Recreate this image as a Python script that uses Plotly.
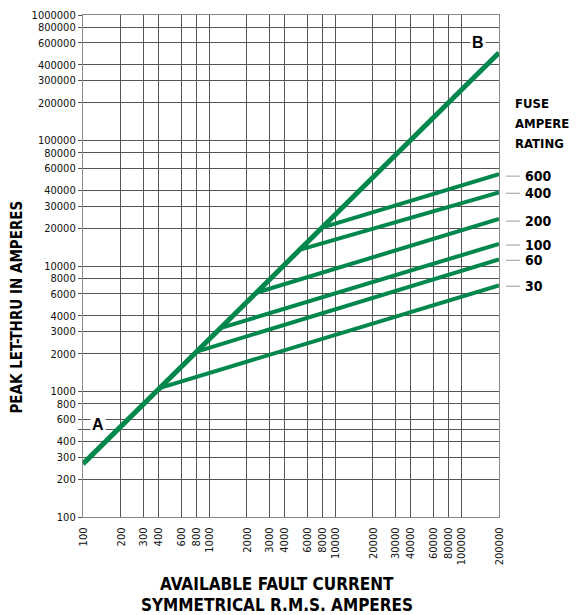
import numpy as np
import plotly.graph_objects as go

# ---- data ----
x_ticks = [100, 200, 300, 400, 600, 800, 1000, 2000, 3000, 4000, 6000, 8000,
           10000, 20000, 30000, 40000, 60000, 80000, 100000, 200000]
y_ticks = [100, 200, 300, 400, 500, 600, 800, 1000, 2000, 3000, 4000, 6000, 8000,
           10000, 20000, 30000, 40000, 60000, 80000, 100000, 200000, 300000,
           400000, 600000, 800000, 1000000]
y_tick_labels = [str(v) if v != 500 else "" for v in y_ticks]

# main A-B line
ab_x = [100, 200000]
ab_y = [265, 500000]

# fuse ratings: branch point on A-B line and end value at 200000 A
fuse_ratings = ["600", "400", "200", "100", "60", "30"]
fuse_start_x = [8000, 5300, 2400, 1230, 800, 410]
fuse_start_y = [20300, 13500, 6150, 3200, 2080, 1070]
fuse_end_x = [200000, 200000, 200000, 200000, 200000, 200000]
fuse_end_y = [54000, 38600, 23700, 15000, 11300, 7000]
label_y = [52000, 38000, 22800, 14700, 11100, 6900]

GREEN = "#00874B"
FONT = "Liberation Sans Narrow, Arial Narrow, DejaVu Sans Condensed, sans-serif"

fig = go.Figure()
fig.add_trace(go.Scatter(x=ab_x, y=ab_y, mode="lines",
                         line=dict(color=GREEN, width=5), hoverinfo="skip",
                         showlegend=False))
for sx, sy, ex, ey in zip(fuse_start_x, fuse_start_y, fuse_end_x, fuse_end_y):
    fig.add_trace(go.Scatter(x=[sx, ex], y=[sy, ey], mode="lines",
                             line=dict(color=GREEN, width=4), hoverinfo="skip",
                             showlegend=False))

annotations = []
shapes = []
for r, ly in zip(fuse_ratings, label_y):
    annotations.append(dict(x=1.058, xref="paper", y=np.log10(ly), yref="y",
                            text=r, showarrow=False, xanchor="left",
                            yanchor="middle",
                            font=dict(family=FONT, size=14, color="black",
                                      weight="bold")))
    shapes.append(dict(type="line", xref="paper", yref="y", x0=1.017, x1=1.05,
                       y0=ly, y1=ly, line=dict(color="#999999", width=1)))

for i, t in enumerate(["FUSE", "AMPERE", "RATING"]):
    annotations.append(dict(x=1.034, xref="paper", y=(517 - (103.7 + 20 * i)) / 502,
                            yref="paper", text=t, showarrow=False,
                            xanchor="left", yanchor="middle",
                            font=dict(family=FONT, size=13, color="black",
                                      weight="bold")))

# A and B labels
annotations.append(dict(x=np.log10(ab_x[0]) + 0.12, xref="x", y=np.log10(550), yref="y",
                        text="A", showarrow=False, bgcolor="white",
                        xanchor="center", yanchor="middle",
                        font=dict(family="Liberation Sans, Arial, sans-serif",
                                  size=16, color="black", weight="bold")))
annotations.append(dict(x=np.log10(ab_x[1]) - 0.165, xref="x", y=np.log10(600000), yref="y",
                        text="B", showarrow=False, bgcolor="white",
                        xanchor="center", yanchor="middle",
                        font=dict(family="Liberation Sans, Arial, sans-serif",
                                  size=16, color="black", weight="bold")))

# axis titles
annotations.append(dict(x=-0.159, xref="paper", y=0.419, yref="paper",
                        text="PEAK LET-THRU IN AMPERES", textangle=-90,
                        showarrow=False, xanchor="center", yanchor="middle",
                        font=dict(family=FONT, size=15, color="black",
                                  weight="bold")))
annotations.append(dict(x=0.467, xref="paper", y=(517 - 584) / 502, yref="paper",
                        text="AVAILABLE FAULT CURRENT", showarrow=False,
                        xanchor="center", yanchor="middle",
                        font=dict(family=FONT, size=17, color="black",
                                  weight="bold")))
annotations.append(dict(x=0.467, xref="paper", y=(517 - 605) / 502, yref="paper",
                        text="SYMMETRICAL R.M.S. AMPERES", showarrow=False,
                        xanchor="center", yanchor="middle",
                        font=dict(family=FONT, size=17, color="black",
                                  weight="bold")))

fig.update_layout(
    width=571, height=607,
    margin=dict(l=75, r=80, t=7, b=98),
    paper_bgcolor="white", plot_bgcolor="white",
    showlegend=False,
    annotations=annotations,
    shapes=shapes,
    font=dict(family=FONT, size=11, color="#111"),
)
fig.update_xaxes(type="log", range=[np.log10(100), np.log10(200000)],
                 tickvals=x_ticks, ticktext=[str(v) for v in x_ticks],
                 tickangle=-90, ticks="outside", ticklen=5,
                 tickcolor="rgba(0,0,0,0)", automargin=False,
                 showgrid=True, gridcolor="#555555", gridwidth=1.2,
                 showline=True, linecolor="#888888", linewidth=1.2, mirror=True,
                 zeroline=False, tickfont=dict(family=FONT, size=11, color="#111"))
fig.update_yaxes(type="log", range=[2, 6],
                 tickvals=y_ticks, ticktext=y_tick_labels,
                 ticks="outside", ticklen=4, tickcolor="#555555", automargin=False,
                 showgrid=True, gridcolor="#555555", gridwidth=1.2,
                 showline=True, linecolor="#888888", linewidth=1.2, mirror=True,
                 zeroline=False, tickfont=dict(family=FONT, size=11, color="#111"))

fig.write_html("out.html")
